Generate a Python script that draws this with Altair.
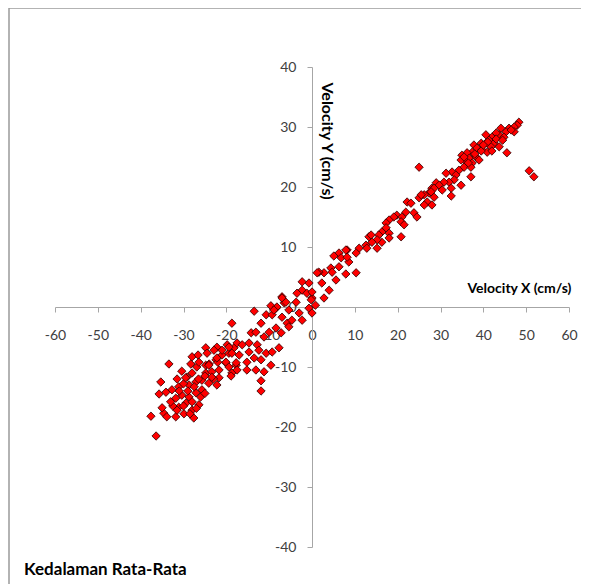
import altair as alt
import pandas as pd

# Velocity X (cm/s)
vel_x = [
    -33.4, -35.3, -35.7, -37.6, -36.4, -31.5, -30.4, -28.3, -28.0, -26.6, -24.8, -22.2, -19.8, -18.2,
    -34.1, -32.7, -31.1, -34.6, -33.9, -31.8, -29.9, -27.6, -31.1, -29.4, -28.0, -26.4, -31.8, -30.4,
    -28.7, -27.1, -25.7, -28.7, -27.1, -25.7, -24.1, -22.2, -24.8, -23.4, -21.7, -20.1, -18.7, -24.8,
    -22.4, -21.0, -19.4, -28.0, -26.9, -29.2, -21.7, -17.7,
    -30.0, -29.0, -27.5, -31.0, -32.5, -26.0, -25.0, -23.0, -24.0, -30.0, -33.0, -28.5, -26.5, -29.5,
    -22.0, -35.0, -27.0, -31.5, -28.0, -25.0,
    -13.5, -18.7, -9.6, -8.4, -6.5, -7.0, -10.7, -9.3, -11.9, -14.2, -13.1, -10.0, -8.4, -7.2, -5.8,
    -11.2, -17.5, -16.3, -14.7, -12.8, -19.4, -21.0, -22.9, -24.5, -18.7, -17.0, -14.7, -12.4, -10.7,
    -9.3, -7.7, -13.5, -11.9, -15.2, -17.7, -20.1, -22.2, -19.4, -17.5, -15.2, -13.1, -11.2, -9.6,
    -18.9, -11.9, -26.4, -24.1, -23.4, -11.9,
    13.3, 12.6, 11.0, 10.3, 8.2, 6.3, 5.1, 6.8, 8.6, 6.3, 4.4, 4.7, 2.8, 1.6, 1.2, 7.9, 10.3, 2.3, 5.6,
    4.0, 2.8, 0.0, -0.7, -2.3, -2.3, -3.5, -1.2, 0.0, -7.0, -8.2, -6.1, -3.7, -5.4, -3.0, -0.7, 0.8,
    -0.2, -7.0, -4.7, -2.3, 0.0, -5.4, -8.9,
    29.0, 28.0, 28.5, 27.3, 26.2, 25.0, 26.9, 28.0, 26.2, 25.5, 22.2, 23.1, 21.9, 23.8, 24.5, 19.8,
    21.0, 19.1, 18.0, 17.3, 20.8, 21.5, 17.3, 18.0, 16.3, 15.6, 20.8, 18.0, 16.3, 13.8, 15.2, 14.0,
    12.8, 15.2, 7.9, 8.2,
    48.3, 47.9, 47.2, 46.0, 47.2, 45.3, 44.1, 43.7, 43.0, 42.0, 44.8, 41.3, 40.6, 42.5, 43.7, 41.8,
    40.6, 39.5, 37.8, 38.5, 39.7, 40.9, 45.5, 37.4, 36.2, 35.0, 36.7, 38.3, 39.0, 37.4, 36.0, 34.8,
    35.5, 37.1, 34.3, 32.7, 31.3, 33.6, 37.1, 33.2, 32.0, 30.8, 29.7, 28.5, 30.4, 32.5, 34.8, 27.8,
    32.5, 50.7, 51.8, 25.0,
    41.0, 43.0, 39.5, 42.0, 44.5, 46.5, 38.0, 40.0, 36.5, 35.5,
]

# Velocity Y (cm/s)
vel_y = [
    -9.5, -12.5, -14.5, -18.2, -21.5, -12.0, -10.7, -9.5, -8.3, -8.0, -6.8, -6.7, -6.3, -6.8,
    -14.2, -13.8, -13.3, -17.7, -18.3, -18.3, -17.8, -18.5, -16.7, -16.0, -17.2, -16.3, -15.2, -14.7,
    -15.0, -14.3, -13.8, -13.0, -12.5, -12.2, -12.7, -13.0, -11.0, -10.8, -10.5, -9.3, -11.0, -9.7,
    -8.8, -8.0, -7.7, -11.0, -10.0, -11.7, -11.8, -9.7,
    -16.5, -14.0, -13.3, -14.0, -16.5, -15.0, -11.5, -12.0, -9.5, -12.8, -15.8, -17.8, -12.0, -11.8,
    -9.2, -16.8, -16.9, -17.2, -15.8, -14.4,
    -0.7, -2.7, 0.2, -0.2, 0.7, 1.7, -1.3, -1.3, -2.7, -4.3, -4.2, -4.2, -3.5, -4.3, -2.7,
    -5.0, -6.0, -6.3, -6.0, -6.3, -6.7, -7.2, -7.2, -7.7, -7.7, -8.0, -7.5, -7.2, -7.7,
    -7.5, -6.8, -8.5, -8.8, -9.2, -9.3, -9.2, -8.5, -10.0, -10.5, -10.5, -10.5, -10.8, -9.7,
    -11.5, -12.3, -9.2, -9.7, -11.7, -14.0,
    11.7, 10.3, 9.8, 9.0, 9.5, 9.0, 8.5, 8.2, 7.5, 6.7, 6.5, 5.8, 5.7, 5.8, 5.7, 5.5, 5.7, 4.0, 4.5,
    2.8, 1.5, 1.5, 4.0, 4.2, 2.8, 2.3, 2.3, 2.5, 1.5, 0.0, 0.8, 0.8, -0.5, -1.0, -0.2, 0.3,
    1.2, -1.7, -2.2, -2.2, -1.0, -3.3, -0.5,
    20.7, 19.8, 18.3, 19.0, 18.7, 18.2, 17.5, 17.0, 17.0, 18.7, 17.5, 17.3, 15.8, 15.7, 15.0, 15.3,
    15.0, 15.0, 14.5, 14.0, 14.2, 13.7, 13.2, 12.3, 12.5, 12.0, 11.7, 11.5, 10.8, 12.0, 11.2, 10.8,
    9.8, 9.8, 9.5, 8.3,
    30.8, 30.3, 30.0, 29.8, 29.2, 29.2, 29.8, 28.7, 29.0, 28.3, 28.3, 27.8, 28.7, 27.3, 26.7, 26.7,
    27.3, 27.3, 27.0, 26.5, 26.2, 25.8, 25.7, 25.8, 25.7, 25.3, 24.8, 25.0, 24.5, 24.0, 24.2, 24.5,
    23.3, 23.3, 22.8, 22.5, 22.3, 22.0, 21.7, 21.2, 20.8, 20.8, 20.3, 19.8, 19.5, 19.8, 20.3, 19.2,
    18.5, 22.7, 21.7, 23.3,
    27.5, 28.0, 26.0, 26.0, 27.8, 29.5, 25.5, 27.0, 24.0, 25.0,
]

x_ticks = [-60, -50, -40, -30, -20, -10, 0, 10, 20, 30, 40, 50, 60]
y_ticks = [-40, -30, -20, -10, 0, 10, 20, 30, 40]
chart_title = ["Kedalaman Rata-Rata"]

df = pd.DataFrame({"vx": vel_x, "vy": vel_y})
title_df = pd.DataFrame({"label": chart_title})

W, H = 514, 480
FONT = "Lato"

points = alt.Chart(df).mark_point(
    shape="diamond", filled=True, fill="#ff0000", stroke="#2a0000",
    strokeWidth=0.8, size=70, opacity=1
).encode(
    x=alt.X("vx:Q",
            scale=alt.Scale(domain=[-60, 60], nice=False, zero=False),
            axis=alt.Axis(values=x_ticks, offset=-H / 2,
                          labelExpr="'' + datum.value",
                          title="Velocity X (cm/s)", titleX=412, titleY=-15,
                          titleAlign="left", titleBaseline="alphabetic",
                          titleAngle=0, titleFontSize=14, labelPadding=16)),
    y=alt.Y("vy:Q",
            scale=alt.Scale(domain=[-40, 40], nice=False, zero=False),
            axis=alt.Axis(values=y_ticks, offset=-W / 2,
                          labelExpr="'' + datum.value",
                          title="Velocity Y (cm/s)", titleAngle=90,
                          titleX=14, titleY=15, titleAlign="left",
                          titleBaseline="middle", labelPadding=11)),
)

frame = alt.Chart(title_df).mark_rect(
    fillOpacity=0, stroke="#9a9a9a", strokeWidth=1.5
).encode(
    x=alt.value(-46), x2=alt.value(620),
    y=alt.value(-59), y2=alt.value(620),
)

title_text = alt.Chart(title_df).mark_text(
    align="left", baseline="alphabetic", font=FONT, fontSize=17,
    fontWeight="bold", color="#000000"
).encode(
    text="label:N", x=alt.value(-31), y=alt.value(508),
)

chart = alt.layer(frame, points, title_text).properties(
    width=W, height=H,
    autosize=alt.AutoSizeParams(type="none"),
    padding={"left": 47, "top": 59, "right": 12, "bottom": 37},
).configure_axis(
    grid=False, domainColor="#a6a6a6", tickColor="#a6a6a6", tickSize=5,
    labelFont=FONT, labelFontSize=14, labelColor="#404040",
    labelFlush=False, labelOverlap=False,
    titleFont=FONT, titleFontSize=16, titleFontWeight="bold", titleColor="#000000",
).configure_view(strokeWidth=0)

chart.save("out.html", embed_options={"renderer": "svg", "actions": False})
